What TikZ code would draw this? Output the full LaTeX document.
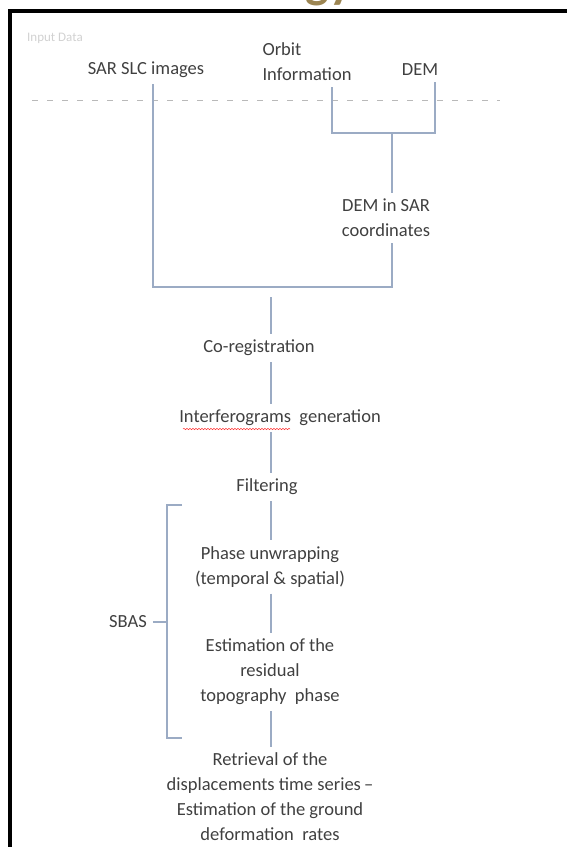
\documentclass[tikz,border=0pt]{standalone}
\usepackage{fontspec}
\setmainfont{Carlito}
\usetikzlibrary{decorations.pathmorphing}

\definecolor{textgrey}{RGB}{64,64,64}
\definecolor{linkblue}{RGB}{155,171,196}
\definecolor{titlegold}{RGB}{156,133,82}

\begin{document}
\begin{tikzpicture}[x=1pt, y=-1pt]
    \tikzstyle{every node} = [font=\fontsize{18.5}{25}\selectfont, text=textgrey, align=center, inner sep=6pt]
    \tikzstyle{link} = [linkblue, line width=1.3pt]
    \useasboundingbox (0,0) rectangle (567,847);

    % frame and cut title
    \node [anchor=base, text=titlegold, font=\fontsize{50}{50}\selectfont\bfseries] (title) at (329,-3) {gy};
    \draw [line width=4pt] (10,847) -- (10,11) -- (567,11);

    % input data
    \node [anchor=west, text=black!18, font=\fontsize{13}{15}\selectfont, inner sep=0pt] (input) at (27,38) {Input Data};
    \draw [gray!55, line width=1pt, dash pattern=on 6pt off 9pt] (32,100) -- (500,100);

    \node (sar) at (146,70) {SAR SLC images};
    \node [align=left] (orbit) at (307,62) {Orbit\\Information};
    \node (dem) at (420,70) {DEM};
    \node (demsar) at (386,218) {DEM in SAR\\coordinates};

    \coordinate (split) at (392,133);
    \coordinate (demtop) at (435,133);
    \coordinate (sarfoot) at (153,287);
    \coordinate (demfoot) at (392,287);
    \coordinate (spine) at (271,297);

    \draw [link] ([xshift=25pt]orbit.south) |- (demtop) -- ([xshift=15pt]dem.south);
    \draw [link] (split) -- ([xshift=6pt]demsar.north);
    \draw [link] ([xshift=7pt]sar.south) -- (sarfoot) -- (demfoot) -- ([xshift=6pt]demsar.south);

    % processing chain
    \node (coreg) at (259,348) {Co-registration};
    \node (interf) at (280,418) {Interferograms\ \ generation};
    \node (filt) at (267,487) {Filtering};
    \node (unwrap) at (270,567) {Phase unwrapping\\(temporal \& spatial)};
    \node (resid) at (270,672) {Estimation of the\\residual\\topography\ \ phase};
    \node (retr) at (270,797) {Retrieval of the\\displacements time series\,--\\Estimation of the ground\\deformation\ \ rates};

    \draw [link] (spine) -- (coreg.north -| spine);
    \foreach \a/\b in {coreg/interf, interf/filt, filt/unwrap, unwrap/resid, resid/retr}
      \draw [link] (\a.south -| spine) -- (\b.north -| spine);

    \draw [red!80, line width=0.5pt, decorate, decoration={snake, amplitude=0.7pt, segment length=3pt}] (183,429) -- (290,429);

    % SBAS bracket
    \node (sbas) at (128,622) {SBAS};
    \draw [link] (182,505) -- (167,505) -- (167,738) -- (182,738);
    \draw [link] (sbas.east) -- (167,622);
  \end{tikzpicture}
\end{document}
